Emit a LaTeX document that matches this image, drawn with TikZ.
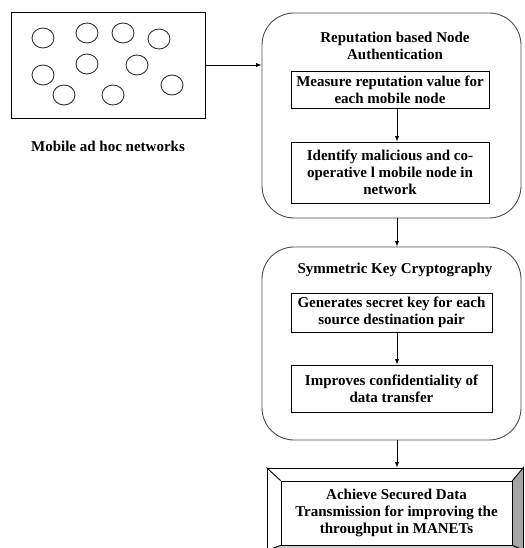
\documentclass[tikz,border=0pt]{standalone}
\usepackage{fontspec}
\setmainfont{Liberation Serif}
\usetikzlibrary{arrows,shapes.geometric}

\begin{document}
\begin{tikzpicture}[x=1pt,y=-1pt,>=latex,line width=0.9pt]
      \tikzstyle{txt} = [font=\fontsize{15}{17}\selectfont\bfseries, align=center, inner sep=0pt]
      \tikzstyle{cell} = [draw, black!80, ellipse, minimum width=22pt, minimum height=20pt, inner sep=0pt]
      \tikzstyle{group} = [draw, black!70, rounded corners=32pt, minimum width=259pt]
      \tikzstyle{inbox} = [draw, txt, minimum width=198pt]
      \useasboundingbox (0,0) rectangle (524,548);
      \coordinate (spine) at (397,0);
      % mobile network
      \node[draw, minimum width=194pt, minimum height=106pt] (net) at (108,65) {};
      \foreach \i/\x/\y in {1/43/38, 2/87/33, 3/123/33, 4/159/39, 5/43/75,
                            6/87/64, 7/137/65, 8/172/85, 9/64/95, 10/113/95}
        \node[cell] (m\i) at (\x,\y) {};
      \node[txt] (netlabel) at (108,146) {Mobile ad hoc networks};
      % reputation
      \node[group, minimum height=205pt] (rep) at (391.5,115.5) {};
      \node[txt] (reptitle) at (395,46) {Reputation based Node\\Authentication};
      \node[inbox, minimum height=37pt] (measure) at (390,89.5) {Measure reputation value for\\each mobile node};
      \node[inbox, minimum height=61pt] (identify) at (390,172.5) {Identify malicious and co-\\operative l mobile node in\\network};
      % cryptography
      \node[group, minimum height=193pt] (sym) at (391.5,343.5) {};
      \node[txt] (symtitle) at (395,270) {Symmetric Key Cryptography};
      \node[inbox, minimum width=201pt, minimum height=39pt] (gen) at (391.5,312.5) {Generates secret key for each\\source destination pair};
      \node[inbox, minimum width=201pt, minimum height=47pt] (impr) at (391.5,388.5) {Improves confidentiality of\\data transfer};
      % result
      \node[draw, minimum width=256pt, minimum height=82pt] (goal) at (395,509) {};
      \node[draw, txt, minimum width=231pt, minimum height=64pt] (goalin) at (396.5,513) {Achieve Secured Data\\Transmission for improving the\\throughput in MANETs};
      \filldraw[fill=gray!70] (goal.north east) -- (goalin.north east) -- (goalin.south east) -- (goal.south east) -- cycle;
      \filldraw[fill=gray!40] (goal.south west) -- (goalin.south west) -- (goalin.south east) -- (goal.south east) -- cycle;
      \draw (goal.north west) -- (goalin.north west);
      % arrows
      \draw[->] (net.east) -- (net.east -| rep.west);
      \draw[->] (measure.south -| spine) -- (identify.north -| spine);
      \draw[->] (rep.south -| spine) -- (sym.north -| spine);
      \draw[->] (gen.south -| spine) -- (impr.north -| spine);
      \draw[->] (sym.south -| spine) -- (goal.north -| spine);
\end{tikzpicture}
\end{document}
